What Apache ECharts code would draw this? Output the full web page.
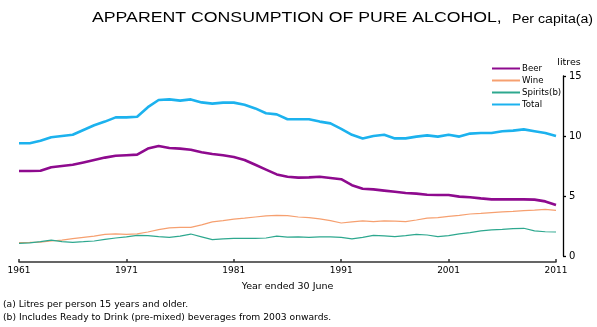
<!DOCTYPE html>
<html>
<head>
<meta charset="utf-8">
<script src="https://cdn.jsdelivr.net/npm/echarts@6/dist/echarts.min.js"></script>
<style>
  html, body { margin: 0; padding: 0; background: #fff; }
  #chart { width: 597px; height: 327px; }
</style>
</head>
<body>
<div id="chart"></div>
<script>
// Apparent consumption of pure alcohol, litres per capita, years ended 30 June
const years = [];
for (let y = 1961; y <= 2011; y++) years.push(String(y));

const beer = [
  7.08, 7.08, 7.1, 7.4, 7.5, 7.6, 7.8, 8.0, 8.2, 8.35,
  8.4, 8.45, 8.95, 9.17, 9.0, 8.95, 8.85, 8.65, 8.5, 8.4,
  8.25, 8.0, 7.6, 7.2, 6.8, 6.6, 6.53, 6.55, 6.6, 6.5,
  6.4, 5.9, 5.6, 5.55, 5.45, 5.35, 5.25, 5.2, 5.1, 5.08,
  5.08, 4.95, 4.9, 4.8, 4.72, 4.72, 4.72, 4.72, 4.7, 4.55,
  4.25
];
const wine = [
  1.11, 1.13, 1.16, 1.25, 1.33, 1.45, 1.55, 1.65, 1.8, 1.85,
  1.8, 1.85, 2.0, 2.2, 2.35, 2.39, 2.39, 2.6, 2.85, 2.95,
  3.08, 3.15, 3.25, 3.35, 3.39, 3.36, 3.25, 3.2, 3.1, 2.95,
  2.75, 2.85, 2.92, 2.86, 2.92, 2.9, 2.86, 3.0, 3.15, 3.2,
  3.3, 3.38, 3.5, 3.55, 3.62, 3.68, 3.72, 3.78, 3.82, 3.89,
  3.8
];
const spirits = [
  1.06, 1.1, 1.2, 1.33, 1.2, 1.14, 1.19, 1.25, 1.38, 1.5,
  1.6, 1.72, 1.7, 1.62, 1.56, 1.65, 1.83, 1.6, 1.36, 1.42,
  1.47, 1.47, 1.47, 1.5, 1.65, 1.58, 1.6, 1.56, 1.6, 1.6,
  1.55, 1.42, 1.55, 1.72, 1.68, 1.62, 1.7, 1.8, 1.75, 1.62,
  1.7, 1.85, 1.95, 2.1, 2.18, 2.22, 2.28, 2.31, 2.1, 2.02,
  2.0
];
const total = [
  9.4, 9.4, 9.6, 9.9, 10.0, 10.1, 10.5, 10.9, 11.2, 11.55,
  11.55, 11.6, 12.4, 13.0, 13.05, 12.95, 13.05, 12.8, 12.7, 12.78,
  12.78, 12.6, 12.3, 11.9, 11.8, 11.4, 11.4, 11.4, 11.2, 11.05,
  10.6, 10.1, 9.8, 10.0, 10.1, 9.8, 9.8, 9.95, 10.05, 9.95,
  10.1, 9.95, 10.2, 10.25, 10.25, 10.4, 10.45, 10.55, 10.4, 10.25,
  10.0
];

const seriesNames = ['Beer', 'Wine', 'Spirits(b)', 'Total'];
const yTicks = { min: 0, max: 15, interval: 5 };

const titleText = 'APPARENT CONSUMPTION OF PURE ALCOHOL,';
const subtitleText = 'Per capita(a)';
const xAxisTitle = 'Year ended 30 June';
const yAxisTitle = 'litres';
const notes = [
  '(a) Litres per person 15 years and older.',
  '(b) Includes Ready to Drink (pre-mixed) beverages from 2003 onwards.'
];

const colors = ['#8e0a8e', '#f6a070', '#2ea88f', '#1cb2ee'];
const widths = [2.6, 1.2, 1.2, 2.6];
const values = [beer, wine, spirits, total];

const smallFont = 'DejaVu Sans';

const chart = echarts.init(document.getElementById('chart'), null, { renderer: 'canvas' });

chart.setOption({
  animation: false,
  backgroundColor: '#ffffff',
  grid: { left: 19, right: 41, top: 76, bottom: 71, containLabel: false },
  legend: {
    orient: 'vertical',
    left: 492,
    top: 64,
    padding: 0,
    itemGap: 3,
    itemWidth: 28,
    itemHeight: 2,
    icon: 'rect',
    data: seriesNames,
    textStyle: { fontFamily: smallFont, fontSize: 8.6, color: '#000', padding: [0, 0, 0, -3] }
  },
  xAxis: {
    type: 'category',
    data: years,
    boundaryGap: false,
    offset: 6,
    axisLine: { onZero: false, lineStyle: { color: '#333', width: 1.5 } },
    axisTick: { inside: true, length: 3, interval: 9, lineStyle: { color: '#333', width: 1.5 } },
    axisLabel: { interval: 9, color: '#000', fontFamily: smallFont, fontSize: 9, margin: 4 },
    name: xAxisTitle,
    nameLocation: 'middle',
    nameGap: 20,
    nameTextStyle: { fontFamily: smallFont, fontSize: 9.5, color: '#000' },
    splitLine: { show: false }
  },
  yAxis: {
    type: 'value',
    position: 'right',
    offset: 7,
    min: yTicks.min,
    max: yTicks.max,
    interval: yTicks.interval,
    axisLine: { show: true, lineStyle: { color: '#000', width: 1.3 } },
    axisTick: { show: true, inside: false, length: 3, lineStyle: { color: '#000', width: 1.3 } },
    axisLabel: { color: '#000', fontFamily: smallFont, fontSize: 10, margin: 6 },
    splitLine: { show: false },
    name: yAxisTitle,
    nameLocation: 'end',
    nameGap: 8,
    nameTextStyle: { fontFamily: smallFont, fontSize: 9.5, color: '#000', align: 'center', padding: [0, 0, 0, 12] }
  },
  series: seriesNames.map((name, i) => ({
    name: name,
    type: 'line',
    data: values[i],
    symbol: 'none',
    color: colors[i],
    lineStyle: { color: colors[i], width: widths[i] },
    z: i === 1 || i === 2 ? 2 : 3
  })),
  graphic: [
    {
      type: 'text', x: 92, y: 18, scaleX: 1.18,
      style: { text: titleText, font: '15px "Liberation Sans", Arial, sans-serif', fill: '#000', verticalAlign: 'middle' }
    },
    {
      type: 'text', x: 512, y: 20, scaleX: 1.18,
      style: { text: subtitleText, font: '12px "Liberation Sans", Arial, sans-serif', fill: '#000', verticalAlign: 'middle' }
    },
    {
      type: 'text', x: 3, y: 305,
      style: { text: notes[0], font: '9.2px "DejaVu Sans", sans-serif', fill: '#000', verticalAlign: 'middle' }
    },
    {
      type: 'text', x: 3, y: 318,
      style: { text: notes[1], font: '9.2px "DejaVu Sans", sans-serif', fill: '#000', verticalAlign: 'middle' }
    }
  ]
});
</script>
</body>
</html>
